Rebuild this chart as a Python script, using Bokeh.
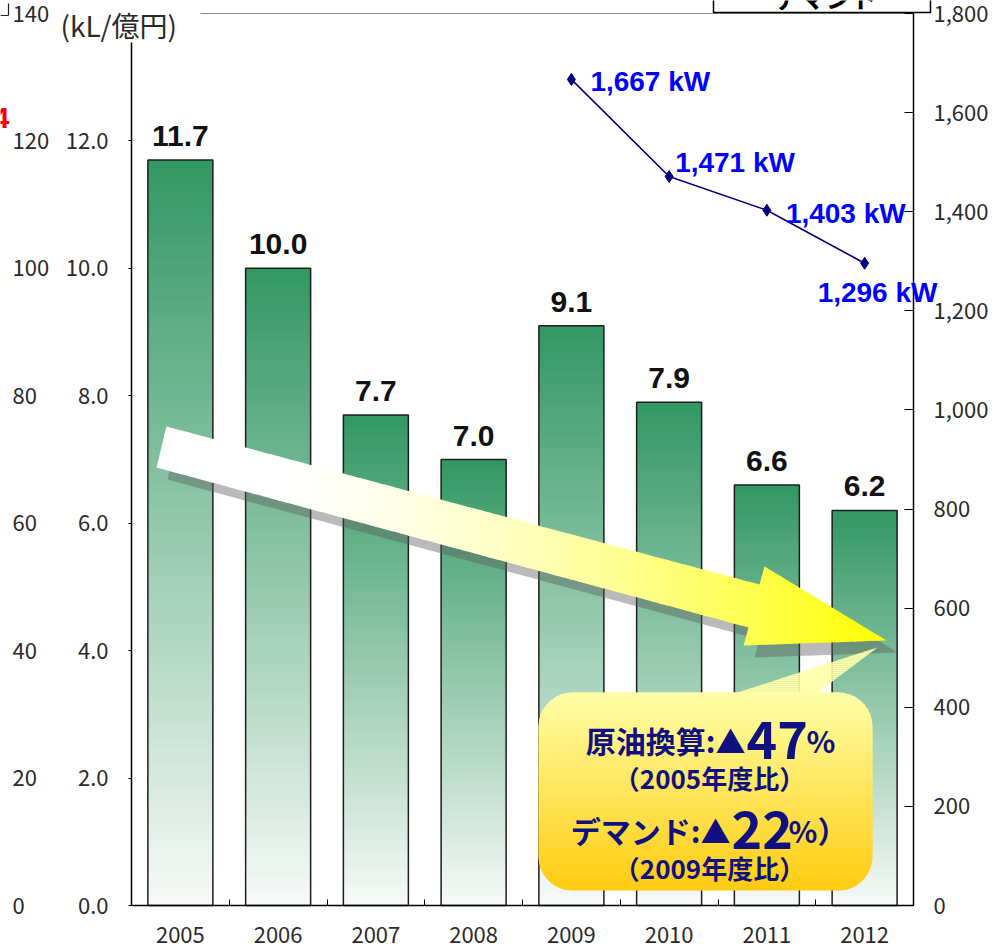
import math
import numpy as np
from bokeh.plotting import figure
from bokeh.models import (Range1d, LinearAxis, FixedTicker, NumeralTickFormatter,
                          ColumnDataSource, LabelSet, Label)
from bokeh.core.properties import value
from bokeh.embed import file_html
from bokeh.resources import INLINE

# ---------------- data ----------------
years = ["2005", "2006", "2007", "2008", "2009", "2010", "2011", "2012"]
intensity = [11.7, 10.0, 7.7, 7.0, 9.1, 7.9, 6.6, 6.2]          # kL / 億円
intensity_labels = ["11.7", "10.0", "7.7", "7.0", "9.1", "7.9", "6.6", "6.2"]
demand_years = ["2009", "2010", "2011", "2012"]
demand_kw = [1667, 1471, 1403, 1296]
demand_labels = ["1,667 kW", "1,471 kW", "1,403 kW", "1,296 kW"]
left_ticks = [0, 2, 4, 6, 8, 10, 12]
right_ticks = [0, 200, 400, 600, 800, 1000, 1200, 1400, 1600, 1800]
outer_ticks = [0, 20, 40, 60, 80, 100, 120, 140]

# ---------------- layout (pixels) ----------------
W, H = 996, 947
FL, FR, FT, FB = 131, 913, 13, 905          # plot area edges on the canvas
XMAX, YMAX, KWMAX, OUTMAX = len(years), 14.0, 1800.0, 140.0

def xd(px):
    return (px - FL) / (FR - FL) * XMAX

def yd(py):
    return (FB - py) / (FB - FT) * YMAX

def kwd(py):
    return (FB - py) / (FB - FT) * KWMAX

def outd(py):
    return (FB - py) / (FB - FT) * OUTMAX

def lerp(c0, c1, t):
    t = min(max(t, 0.0), 1.0)
    return tuple(int(round(a + (b - a) * t)) for a, b in zip(c0, c1))

def hexc(c):
    return "#%02x%02x%02x" % c

def clip_half(poly, axis, val, keep_greater):
    out = []
    n = len(poly)
    for i in range(n):
        cur, prev = poly[i], poly[i - 1]
        cin = cur[axis] >= val if keep_greater else cur[axis] <= val
        pin = prev[axis] >= val if keep_greater else prev[axis] <= val
        if cin != pin:
            t = (val - prev[axis]) / (cur[axis] - prev[axis])
            out.append((prev[0] + t * (cur[0] - prev[0]), prev[1] + t * (cur[1] - prev[1])))
        if cin:
            out.append(cur)
    return out

def gradient_strips(poly, axis, n, color_fn, overlap=1.0):
    lo = min(p[axis] for p in poly)
    hi = max(p[axis] for p in poly)
    xs, ys, cols, mids = [], [], [], []
    step = (hi - lo) / n
    for k in range(n):
        a = lo + k * step
        b = min(hi, a + step + overlap)
        piece = clip_half(clip_half(poly, axis, a, True), axis, b, False)
        if len(piece) < 3:
            continue
        xs.append([xd(p[0]) for p in piece])
        ys.append([yd(p[1]) for p in piece])
        mid = a + step / 2.0
        cols.append(color_fn(mid, (mid - lo) / (hi - lo)))
        mids.append(mid)
    return xs, ys, cols, mids

# the frame covers the whole canvas; axes are pinned with fixed_location
p = figure(width=W, height=H, x_range=Range1d(xd(0), xd(W)), y_range=Range1d(yd(H), yd(0)),
           output_backend="svg", toolbar_location=None, title_location=None,
           x_axis_type=None, y_axis_type=None,
           min_border_left=0, min_border_right=0, min_border_top=0, min_border_bottom=0)
p.extra_y_ranges = {"kw": Range1d(kwd(H), kwd(0)), "outer": Range1d(outd(H), outd(0))}
p.outline_line_color = None
p.background_fill_color = "white"
p.border_fill_color = "white"

TICK_FONT = "Noto Sans CJK JP"
TICK_COLOR = "#2a2a2a"
BOLD_FONT = "Liberation Sans"

# ---------------- gradient bars ----------------
centers = [i + 0.5 for i in range(len(years))]
BAR_W = 0.665
TOP_C = (50, 151, 99)
BOT_C = (248, 250, 248)
N = 90
ql, qr, qb, qt, qc = [], [], [], [], []
for xc, v in zip(centers, intensity):
    for k in range(N):
        b = v * k / N
        t = min(v, v * (k + 1) / N + v * 0.006)
        frac_top = 1.0 - (k + 0.5) / N
        ql.append(xc - BAR_W / 2)
        qr.append(xc + BAR_W / 2)
        qb.append(b)
        qt.append(t)
        qc.append(hexc(lerp(TOP_C, BOT_C, frac_top)))
p.quad(left=ql, right=qr, bottom=qb, top=qt, fill_color=qc, line_color=None)
p.vbar(x=centers, top=intensity, width=BAR_W, fill_color=None,
       line_color="#1e1e1e", line_width=1.5)

# ---------------- big trend arrow ----------------
arrow_px = [(166, 426), (759, 584), (764, 566), (886, 640), (743, 645), (748, 627), (156, 467)]
shadow_px = [(x + 11, y + 12) for x, y in arrow_px]
p.patch([xd(x) for x, y in shadow_px], [yd(y) for x, y in shadow_px],
        fill_color="#5a5a5a", fill_alpha=0.42, line_color=None)

def arrow_color(pos, t):
    s = max(0.0, (t - 0.15) / 0.85)
    bch = int(round(255 * (1 - s ** 1.5)))
    return "#ffff%02x" % bch

axs, ays, acols, _ = gradient_strips(arrow_px, 0, 90, arrow_color, overlap=1.2)
p.patches(axs, ays, fill_color=acols, line_color=None)

# ---------------- callout bubble ----------------
L, R, T, B, RAD = 538, 872, 692, 890, 34
bubble = [(L + RAD, T), (737, T), (877, 647), (817, T), (R - RAD, T)]
def arc(cx, cy, a0, a1, n=10):
    return [(cx + RAD * math.cos(math.radians(a)), cy + RAD * math.sin(math.radians(a)))
            for a in np.linspace(a0, a1, n)]
bubble += arc(R - RAD, T + RAD, -90, 0)
bubble += arc(R - RAD, B - RAD, 0, 90)
bubble += arc(L + RAD, B - RAD, 90, 180)
bubble += arc(L + RAD, T + RAD, 180, 270)

def bubble_color(pos, t):
    return hexc(lerp((255, 255, 168), (255, 203, 16), (pos - T) / (B - T)))

bxs, bys, bcols, bmids = gradient_strips(bubble, 1, 120, bubble_color, overlap=1.2)
balpha = [0.8 if m < T else 1.0 for m in bmids]
p.patches(bxs, bys, fill_color=bcols, fill_alpha=balpha, line_color=None)

# ---------------- demand line ----------------
demand_x = [centers[years.index(y)] for y in demand_years]
p.line(demand_x, demand_kw, y_range_name="kw", line_color="#000080", line_width=1.6)
p.scatter(demand_x, demand_kw, y_range_name="kw", marker="diamond", size=12,
          fill_color="#000080", line_color="#000080")

# ---------------- axes (pinned) ----------------
xaxis = LinearAxis(ticker=FixedTicker(ticks=centers, minor_ticks=[float(i) for i in range(1, len(years))]),
                   major_label_overrides={c: y for c, y in zip(centers, years)},
                   fixed_location=0, bounds=(0, XMAX))
xaxis.major_tick_line_color = None
xaxis.minor_tick_line_color = "black"
xaxis.minor_tick_in = 6
xaxis.minor_tick_out = 0
xaxis.axis_line_color = "black"
xaxis.axis_line_width = 1.5
xaxis.major_label_standoff = 15
xaxis.major_label_text_font = TICK_FONT
xaxis.major_label_text_font_size = "22px"
xaxis.major_label_text_color = TICK_COLOR
p.add_layout(xaxis, "below")

yaxis = LinearAxis(ticker=FixedTicker(ticks=left_ticks, minor_ticks=[]),
                   formatter=NumeralTickFormatter(format="0.0"),
                   fixed_location=0, bounds=(0, yd(42)))
yaxis.major_tick_in = 0
yaxis.major_tick_out = 3
yaxis.major_tick_line_color = "black"
yaxis.axis_line_color = "black"
yaxis.axis_line_width = 1.5
yaxis.major_label_standoff = 20
yaxis.major_label_text_font = TICK_FONT
yaxis.major_label_text_font_size = "22px"
yaxis.major_label_text_color = TICK_COLOR
p.add_layout(yaxis, "left")

raxis = LinearAxis(y_range_name="kw", ticker=FixedTicker(ticks=right_ticks, minor_ticks=[]),
                   formatter=NumeralTickFormatter(format="0,0"),
                   fixed_location=XMAX, bounds=(0, KWMAX))
raxis.major_tick_in = 9
raxis.major_tick_out = 0
raxis.major_tick_line_color = "black"
raxis.axis_line_color = "black"
raxis.axis_line_width = 1.5
raxis.major_label_standoff = 20
raxis.major_label_text_font = TICK_FONT
raxis.major_label_text_font_size = "22px"
raxis.major_label_text_color = TICK_COLOR
p.add_layout(raxis, "right")

# top border line of the plot area (gray)
p.segment(x0=[xd(200)], y0=[YMAX], x1=[XMAX], y1=[YMAX], line_color="#8a8a8a", line_width=1)

# outer (cropped) axis labels 0..140
outer_src = ColumnDataSource(dict(x=[xd(12)] * len(outer_ticks), y=outer_ticks,
                                  t=[str(v) for v in outer_ticks]))
p.add_layout(LabelSet(x="x", y="y", text="t", source=outer_src, y_range_name="outer",
                      text_align="left", text_baseline="middle",
                      text_font=value(TICK_FONT), text_font_size="22px", text_color=TICK_COLOR))

# ---------------- demand labels ----------------
label_dx = [19, 6, 19, -47]
label_dy = [-2, 14, -3, -29]
dsrc = ColumnDataSource(dict(x=demand_x, y=demand_kw, t=demand_labels, dx=label_dx, dy=label_dy))
p.add_layout(LabelSet(x="x", y="y", text="t", source=dsrc, y_range_name="kw",
                      x_offset="dx", y_offset="dy", text_align="left", text_baseline="middle",
                      text_font=value(BOLD_FONT), text_font_style="bold",
                      text_font_size="28px", text_color="#0000ff"))

# ---------------- bar value labels ----------------
bsrc = ColumnDataSource(dict(x=centers, y=intensity, t=intensity_labels))
p.add_layout(LabelSet(x="x", y="y", text="t", source=bsrc, y_offset=14,
                      text_align="center", text_baseline="alphabetic",
                      text_font=value(BOLD_FONT), text_font_style="bold",
                      text_font_size="30px", text_color="#111111"))

# ---------------- callout texts ----------------
NAVY = "#101080"
CJK = "Noto Sans CJK JP"
SHIFT = -11
def lab(px, py, text, size, align, color=NAVY, bold=True):
    p.add_layout(Label(x=xd(px), y=yd(py + SHIFT), text=text, text_font=CJK,
                       text_font_style="bold" if bold else "normal",
                       text_font_size=size, text_color=color, text_align=align,
                       text_baseline="alphabetic"))
lab(745, 750, "原油換算:▲", "30px", "right")
lab(746, 750, "47", "52px", "left")
lab(806, 750, "%", "30px", "left")
lab(709, 788, "（2005年度比）", "26px", "center")
lab(730, 840, "デマンド:▲", "30px", "right")
lab(731, 840, "22", "52px", "left")
lab(788, 840, "%）", "30px", "left")
lab(709, 878, "（2009年度比）", "26px", "center")

# ---------------- unit label & cropped fragments ----------------
lab(60, 35, "(kL/億円)", "28px", "left", color=TICK_COLOR, bold=False)
p.add_layout(Label(x=xd(9), y=yd(117), text="4", text_font=BOLD_FONT, text_font_style="bold",
                   text_font_size="30px", text_color="#ff0000", text_align="right",
                   text_baseline="middle"))
p.segment(x0=[xd(8), xd(0)], y0=[yd(3), yd(15)], x1=[xd(8), xd(8)], y1=[yd(15), yd(15)],
          line_color="#222222", line_width=1.2)

# cropped legend box at the top
p.quad(left=[xd(713)], right=[xd(930)], bottom=[yd(12)], top=[yd(-6)],
       fill_color="white", line_color="black", line_width=1.5)
lab(773, 7, "デマンド", "26px", "left", color="black")

open("out.html", "w").write(file_html(p, INLINE))
